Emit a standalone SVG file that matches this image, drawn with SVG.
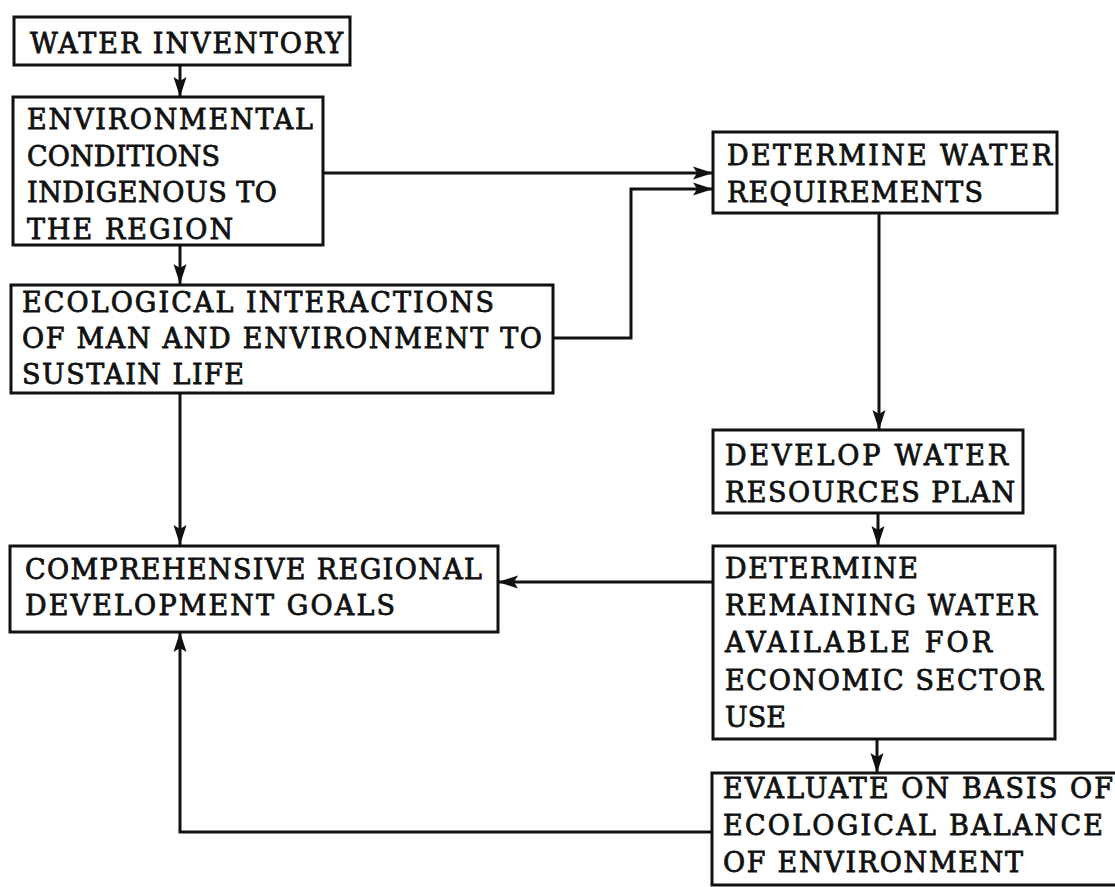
<svg xmlns="http://www.w3.org/2000/svg" width="1115" height="887" viewBox="0 0 1115 887">
<style>
.box{fill:#fff;stroke:#111;stroke-width:3}
.t{font-family:"DejaVu Serif","Liberation Serif",serif;font-size:27px;fill:#111;stroke:#111;stroke-width:0.8}
.c{fill:none;stroke:#111;stroke-width:3}
</style>
<defs>
<marker id="ah" markerUnits="userSpaceOnUse" markerWidth="22" markerHeight="16" viewBox="0 0 22 16" refX="20" refY="8" orient="auto">
<path d="M0,1.5 L20,8 L0,14.5 L4,8 z" fill="#111"/>
</marker>
</defs>
<rect width="1115" height="887" fill="#fff"/>
<g id="connectors">
<path class="c" d="M180,65 V97" marker-end="url(#ah)"/>
<path class="c" d="M180,245 V284" marker-end="url(#ah)"/>
<path class="c" d="M323,173 H713" marker-end="url(#ah)"/>
<path class="c" d="M553,338 H631 V189 H713" marker-end="url(#ah)"/>
<path class="c" d="M180,393 V545" marker-end="url(#ah)"/>
<path class="c" d="M879,213 V430" marker-end="url(#ah)"/>
<path class="c" d="M878,513 V546" marker-end="url(#ah)"/>
<path class="c" d="M713,582 H498" marker-end="url(#ah)"/>
<path class="c" d="M877,739 V773" marker-end="url(#ah)"/>
<path class="c" d="M712,832 H180 V632" marker-end="url(#ah)"/>
</g>
<g id="water-inventory">
<rect class="box" x="14" y="17" width="336" height="48"/>
<text class="t" x="30" y="53" textLength="313" lengthAdjust="spacing">WATER INVENTORY</text>
</g>
<g id="environmental-conditions">
<rect class="box" x="13" y="97" width="310" height="148"/>
<text class="t" x="27" y="129" textLength="286" lengthAdjust="spacing">ENVIRONMENTAL</text>
<text class="t" x="27" y="166" textLength="193" lengthAdjust="spacing">CONDITIONS</text>
<text class="t" x="27" y="202" textLength="250" lengthAdjust="spacing">INDIGENOUS TO</text>
<text class="t" x="27" y="239" textLength="206" lengthAdjust="spacing">THE REGION</text>
</g>
<g id="ecological-interactions">
<rect class="box" x="11" y="285" width="542" height="108"/>
<text class="t" x="22" y="312" textLength="472" lengthAdjust="spacing">ECOLOGICAL INTERACTIONS</text>
<text class="t" x="22" y="348" textLength="520" lengthAdjust="spacing">OF MAN AND ENVIRONMENT TO</text>
<text class="t" x="22" y="384" textLength="222" lengthAdjust="spacing">SUSTAIN LIFE</text>
</g>
<g id="comprehensive-goals">
<rect class="box" x="10" y="546" width="488" height="86"/>
<text class="t" x="25" y="579" textLength="457" lengthAdjust="spacing">COMPREHENSIVE REGIONAL</text>
<text class="t" x="25" y="615" textLength="370" lengthAdjust="spacing">DEVELOPMENT GOALS</text>
</g>
<g id="determine-water-requirements">
<rect class="box" x="713" y="132" width="344" height="81"/>
<text class="t" x="727" y="165" textLength="325" lengthAdjust="spacing">DETERMINE WATER</text>
<text class="t" x="727" y="202" textLength="256" lengthAdjust="spacing">REQUIREMENTS</text>
</g>
<g id="develop-plan">
<rect class="box" x="713" y="430" width="310" height="83"/>
<text class="t" x="725" y="465" textLength="283" lengthAdjust="spacing">DEVELOP WATER</text>
<text class="t" x="725" y="502" textLength="290" lengthAdjust="spacing">RESOURCES PLAN</text>
</g>
<g id="determine-remaining">
<rect class="box" x="713" y="546" width="342" height="193"/>
<text class="t" x="725" y="578" textLength="193" lengthAdjust="spacing">DETERMINE</text>
<text class="t" x="725" y="615" textLength="312" lengthAdjust="spacing">REMAINING WATER</text>
<text class="t" x="725" y="652" textLength="267" lengthAdjust="spacing">AVAILABLE FOR</text>
<text class="t" x="725" y="690" textLength="318" lengthAdjust="spacing">ECONOMIC SECTOR</text>
<text class="t" x="725" y="727">USE</text>
</g>
<g id="evaluate">
<rect class="box" x="712" y="773" width="420" height="112"/>
<text class="t" x="723" y="798" textLength="390" lengthAdjust="spacing">EVALUATE ON BASIS OF</text>
<text class="t" x="723" y="835" textLength="380" lengthAdjust="spacing">ECOLOGICAL BALANCE</text>
<text class="t" x="723" y="872" textLength="300" lengthAdjust="spacing">OF ENVIRONMENT</text>
</g>
</svg>
